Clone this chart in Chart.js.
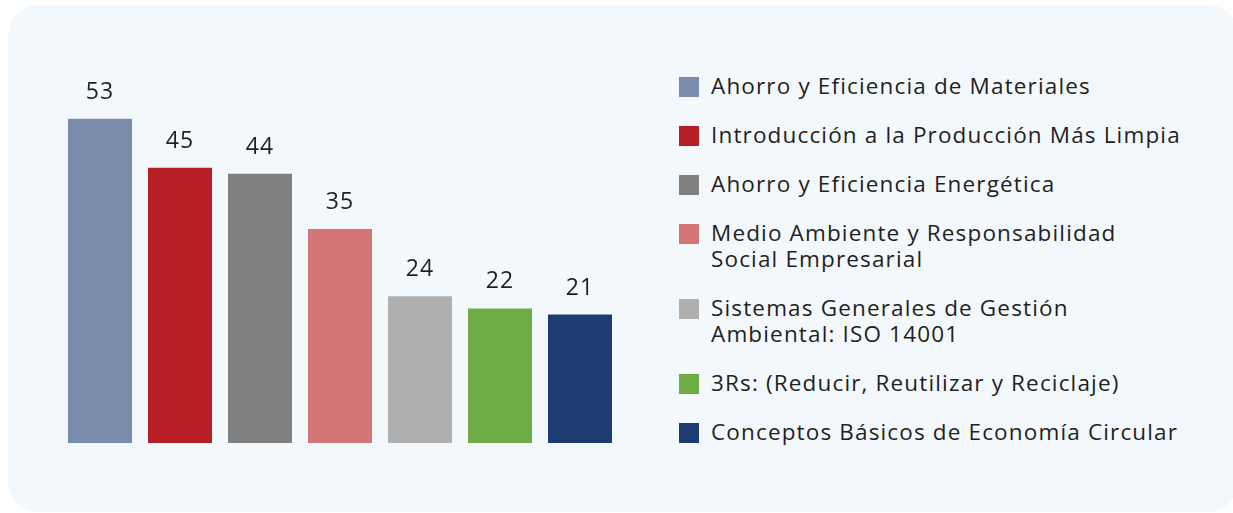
<!DOCTYPE html>
<html lang="es">
<head>
<meta charset="utf-8">
<script src="https://cdn.jsdelivr.net/npm/chart.js@4.4.1/dist/chart.umd.min.js"></script>
<style>
    body { margin: 0; background: #ffffff; width: 1233px; height: 513px; overflow: hidden; font-family: "Open Sans", sans-serif; }
    .panel { position: absolute; left: 8px; top: 5px; width: 1230px; height: 507px; background: #f3f8fd; border-radius: 30px; }
    .chart-box { position: absolute; left: 60px; top: 76px; width: 560px; height: 367px; }
    #leyenda { position: absolute; left: 679px; top: 73px; margin: 0; padding: 0; list-style: none; }
    #leyenda li { position: relative; padding-left: 32px; margin-bottom: 23px; font-size: 22.5px; line-height: 26px; letter-spacing: 1.15px; color: #231f20; white-space: nowrap; }
    #leyenda li span.sq { position: absolute; left: 0; top: 4px; width: 20px; height: 20px; }
</style>
</head>
<body>
<div class="panel"></div>
<div class="chart-box"><canvas id="cursosChart"></canvas></div>
<ul id="leyenda"></ul>
<script>
// datos del gráfico
const cursos = [
    ['Ahorro y Eficiencia de Materiales'],
    ['Introducción a la Producción Más Limpia'],
    ['Ahorro y Eficiencia Energética'],
    ['Medio Ambiente y Responsabilidad', 'Social Empresarial'],
    ['Sistemas Generales de Gestión', 'Ambiental: ISO 14001'],
    ['3Rs: (Reducir, Reutilizar y Reciclaje)'],
    ['Conceptos Básicos de Economía Circular']
];
const participantes = [53, 45, 44, 35, 24, 22, 21];
const colores = ['#7a8cab', '#b81e25', '#808080', '#d47677', '#afafaf', '#6fac46', '#1d3c71'];

// leyenda en html (permite textos en dos líneas)
const leyenda = document.getElementById('leyenda');
cursos.forEach((lineas, i) => {
    const li = document.createElement('li');
    li.innerHTML = `<span class="sq" style="background:${colores[i]}"></span>` + lineas.join('<br>');
    leyenda.appendChild(li);
});

// etiquetas de valor sobre cada barra
const valoresPlugin = {
    id: 'valores',
    afterDatasetsDraw(chart) {
        const ctx = chart.ctx;
        const meta = chart.getDatasetMeta(0);
        ctx.save();
        ctx.font = '500 23px "Open Sans", sans-serif';
        ctx.letterSpacing = '1px';
        ctx.fillStyle = '#231f20';
        ctx.textAlign = 'center';
        ctx.textBaseline = 'bottom';
        meta.data.forEach((bar, i) => {
            ctx.fillText(participantes[i], bar.x, bar.y - 15);
        });
        ctx.restore();
    }
};

const ctx = document.getElementById('cursosChart').getContext('2d');
new Chart(ctx, {
    type: 'bar',
    data: {
        labels: cursos.map(l => l.join(' ')),
        datasets: [{
            data: participantes,
            backgroundColor: colores,
            borderWidth: 0,
            barPercentage: 0.8,
            categoryPercentage: 1
        }]
    },
    options: {
        responsive: true,
        maintainAspectRatio: false,
        animation: false,
        layout: { padding: 0 },
        scales: {
            x: { display: false },
            y: { display: false, min: 0, max: 60 }
        },
        plugins: {
            legend: { display: false },
            tooltip: { enabled: false }
        }
    },
    plugins: [valoresPlugin]
});
</script>
</body>
</html>
